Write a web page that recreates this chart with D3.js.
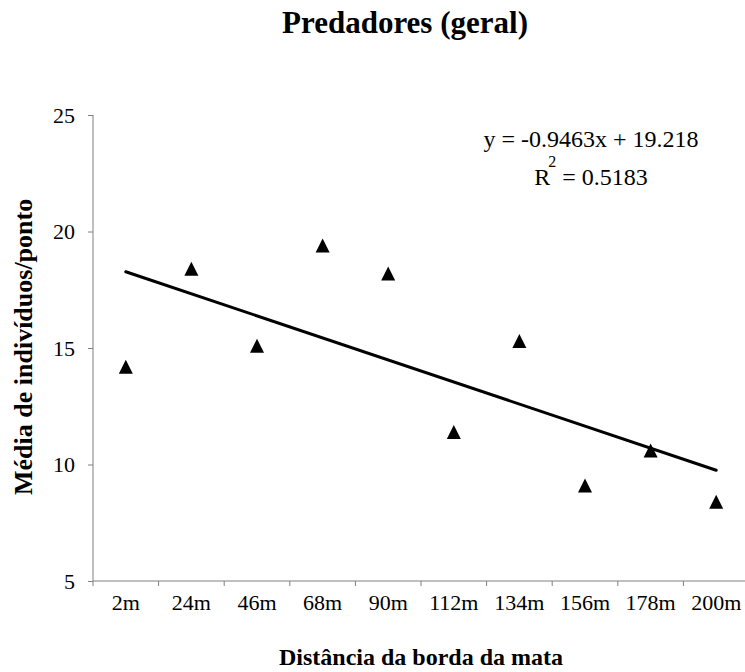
<!DOCTYPE html>
<html>
<head>
<meta charset="utf-8">
<script src="https://cdn.jsdelivr.net/npm/d3@7"></script>
<style>
  body { margin: 0; background: #fff; }
  text { font-family: "Times New Roman", "Liberation Serif", serif; fill: #000; }
</style>
</head>
<body>
<div id="chart"></div>
<script>
// chart data
var categories = ["2m", "24m", "46m", "68m", "90m", "112m", "134m", "156m", "178m", "200m"];
var values = [14.2, 18.4, 15.1, 19.4, 18.2, 11.4, 15.3, 9.1, 10.6, 8.4];
var yTicks = [5, 10, 15, 20, 25];
var slope = -0.9463;
var intercept = 19.218;
var eqText = "y = -0.9463x + 19.218";
var r2Text = "0.5183";

var svgWidth = 745;
var svgHeight = 672;

var plot = { left: 93, right: 749, top: 115, bottom: 581 };

var svg = d3.select("#chart")
  .append("svg")
  .attr("width", svgWidth)
  .attr("height", svgHeight);

var xScale = d3.scaleBand()
  .domain(categories)
  .range([plot.left, plot.right])
  .padding(0);

var yScale = d3.scaleLinear()
  .domain([5, 25])
  .range([plot.bottom, plot.top]);

var axisColor = "#808080";

// y axis
var yAxis = svg.append("g")
  .attr("transform", `translate(${plot.left}, 0)`)
  .call(d3.axisLeft(yScale).tickValues(yTicks).tickSize(5).tickPadding(13).tickFormat(d3.format("d")));
yAxis.select(".domain").attr("stroke", axisColor).attr("d", `M0,${plot.top}V${plot.bottom}`);
yAxis.selectAll(".tick line").attr("stroke", axisColor);
yAxis.selectAll(".tick text")
  .style("font-size", "22px")
  .attr("fill", "#000");

// x axis, ticks at category boundaries
var xAxis = svg.append("g")
  .attr("transform", `translate(0, ${plot.bottom})`);
xAxis.append("line")
  .attr("x1", plot.left).attr("x2", plot.right)
  .attr("y1", 0).attr("y2", 0)
  .attr("stroke", axisColor);
var bounds = categories.map(d => xScale(d)).concat([xScale(categories[categories.length - 1]) + xScale.bandwidth()]);
xAxis.selectAll("line.tk")
  .data(bounds)
  .enter()
  .append("line")
  .attr("class", "tk")
  .attr("x1", d => d).attr("x2", d => d)
  .attr("y1", 0).attr("y2", 5)
  .attr("stroke", axisColor);
xAxis.selectAll("text.lbl")
  .data(categories)
  .enter()
  .append("text")
  .attr("class", "lbl")
  .attr("x", d => xScale(d) + xScale.bandwidth() / 2)
  .attr("y", 29)
  .attr("text-anchor", "middle")
  .style("font-size", "22px")
  .text(d => d);

// trend line
var idx = d3.range(1, categories.length + 1);
var line = d3.line()
  .x(i => xScale(categories[i - 1]) + xScale.bandwidth() / 2)
  .y(i => yScale(slope * i + intercept));
svg.append("path")
  .datum([idx[0], idx[idx.length - 1]])
  .attr("d", line)
  .attr("fill", "none")
  .attr("stroke", "#000")
  .attr("stroke-width", 3)
  .attr("stroke-linecap", "round");

// triangle markers
function tri(cx, cy) {
  return `M${cx},${cy - 7}L${cx + 7},${cy + 7}L${cx - 7},${cy + 7}Z`;
}
svg.selectAll("path.pt")
  .data(values)
  .enter()
  .append("path")
  .attr("class", "pt")
  .attr("d", (d, i) => tri(xScale(categories[i]) + xScale.bandwidth() / 2, yScale(d)))
  .attr("fill", "#000");

// equation
svg.append("text")
  .attr("x", 591)
  .attr("y", 147)
  .attr("text-anchor", "middle")
  .style("font-size", "24px")
  .text(eqText);
var r2 = svg.append("text")
  .attr("x", 591)
  .attr("y", 185)
  .attr("text-anchor", "middle")
  .style("font-size", "24px");
r2.append("tspan").text("R");
r2.append("tspan").attr("dy", -18).attr("dx", -2).style("font-size", "16px").text("2");
r2.append("tspan").attr("dy", 18).text(" = " + r2Text);

// title
svg.append("text")
  .attr("x", 405)
  .attr("y", 33)
  .attr("text-anchor", "middle")
  .style("font-size", "31px")
  .style("font-weight", "bold")
  .text("Predadores (geral)");

// x label
svg.append("text")
  .attr("x", 421)
  .attr("y", 665)
  .attr("text-anchor", "middle")
  .style("font-size", "24px")
  .style("font-weight", "bold")
  .text("Distância da borda da mata");

// y label, clipped at the top like the original
svg.append("clipPath")
  .attr("id", "ylabClip")
  .append("rect")
  .attr("x", 0).attr("y", 198)
  .attr("width", 60).attr("height", 400);
svg.append("g")
  .attr("clip-path", "url(#ylabClip)")
  .append("text")
  .attr("transform", `translate(32, 495) rotate(-90)`)
  .attr("text-anchor", "start")
  .style("font-size", "26px")
  .style("font-weight", "bold")
  .text("Média de indivíduos/ponto");
</script>
</body>
</html>
